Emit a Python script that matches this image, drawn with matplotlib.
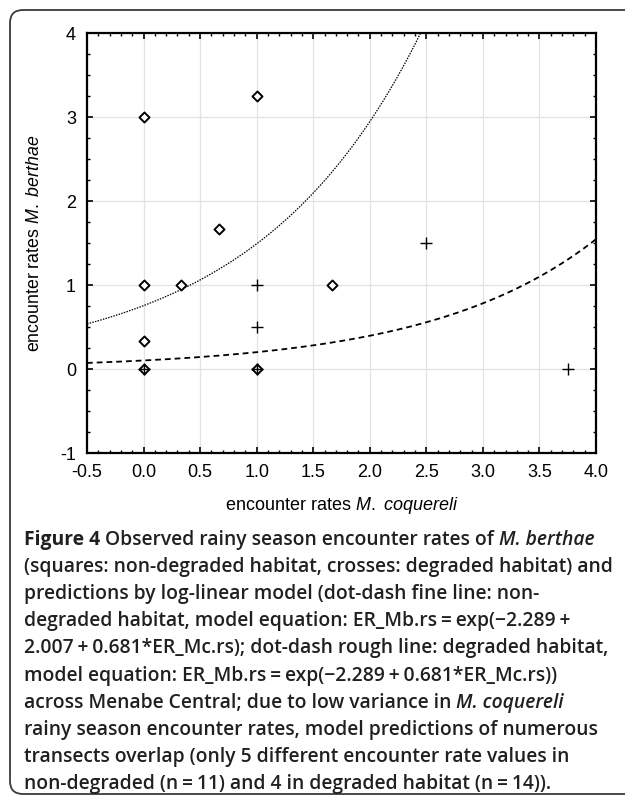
import numpy as np
import matplotlib
matplotlib.use('Agg')
import matplotlib.pyplot as plt
from matplotlib.patches import FancyBboxPatch
from matplotlib.ticker import MultipleLocator

plt.rcParams['mathtext.fontset'] = 'custom'
plt.rcParams['mathtext.it'] = 'Liberation Sans:italic'
plt.rcParams['mathtext.rm'] = 'Liberation Sans'

# observed encounter rates (M. coquereli, M. berthae)
nondeg_x = [0, 1, 0.667, 0, 0.333, 1.667, 0, 0, 1]
nondeg_y = [3, 3.25, 1.667, 1, 1, 1, 0.333, 0, 0]
deg_x = [1, 1, 2.5, 3.75, 0, 1]
deg_y = [1, 0.5, 1.5, 0, 0, 0]

# log-linear model from the caption
intercept = -2.289
nondeg_offset = 2.007
slope = 0.681

x_ticks = [-0.5, 0.0, 0.5, 1.0, 1.5, 2.0, 2.5, 3.0, 3.5, 4.0]
y_ticks = [-1, 0, 1, 2, 3, 4]

caption = [
    [("Figure 4", "bold"), ("Observed rainy season encounter rates of", "n"), ("M. berthae", "it")],
    [("(squares: non-degraded habitat, crosses: degraded habitat) and", "n")],
    [("predictions by log-linear model (dot-dash fine line: non-", "n")],
    [("degraded habitat, model equation: ER_Mb.rs\u2009=\u2009exp(\u22122.289\u2009+", "n")],
    [("2.007\u2009+\u20090.681*ER_Mc.rs); dot-dash rough line: degraded habitat,", "n")],
    [("model equation: ER_Mb.rs\u2009=\u2009exp(\u22122.289\u2009+\u20090.681*ER_Mc.rs))", "n")],
    [("across Menabe Central; due to low variance in", "n"), ("M. coquereli", "it")],
    [("rainy season encounter rates, model predictions of numerous", "n")],
    [("transects overlap (only 5 different encounter rate values in", "n")],
    [("non-degraded (n\u2009=\u200911) and 4 in degraded habitat (n\u2009=\u200914)).", "n")],
]

W, H = 625, 797
fig = plt.figure(figsize=(W / 100, H / 100), dpi=100)

# background axes in pixel units for the frame and caption
bg = fig.add_axes([0, 0, 1, 1], zorder=-1)
bg.set_xlim(0, W)
bg.set_ylim(H, 0)
bg.axis('off')
frame = FancyBboxPatch((10, 10), 640, 784, boxstyle="round,pad=0,rounding_size=13",
                       fc='white', ec='#3a3a3a', lw=1.3)
bg.add_patch(frame)

ax = fig.add_axes([87 / W, 1 - 453 / H, (596 - 87) / W, (453 - 33) / H])
xs = np.linspace(-0.5, 4.0, 400)
ax.plot(xs, np.exp(intercept + nondeg_offset + slope * xs), color='black', lw=0.9,
        dashes=(1.2, 1.0))
ax.plot(xs, np.exp(intercept + slope * xs), color='black', lw=1.3, dashes=(3.2, 2.2))
ax.scatter(nondeg_x, nondeg_y, marker='D', s=26, facecolors='white',
           edgecolors='black', linewidths=1.4, zorder=3)
ax.scatter(deg_x, deg_y, marker='+', s=70, color='black', linewidths=1.0, zorder=4)

ax.set_xlim(-0.5, 4.0)
ax.set_ylim(-1, 4)
ax.set_xticks(x_ticks)
ax.set_xticklabels([f'{t:.1f}' for t in x_ticks])
ax.set_yticks(y_ticks)
ax.set_yticklabels([str(t) for t in y_ticks])
ax.xaxis.set_minor_locator(MultipleLocator(0.1))
ax.yaxis.set_minor_locator(MultipleLocator(0.25))
ax.tick_params(which='both', direction='in', top=True, right=True, color='black')
ax.tick_params(which='major', length=4, width=1.2)
ax.tick_params(which='minor', length=2.5, width=1.0)
ax.tick_params(axis='x', which='major', labelsize=13, pad=8)
ax.tick_params(axis='y', which='major', labelsize=13, pad=8)
for lab in ax.get_xticklabels() + ax.get_yticklabels():
    lab.set_family('Liberation Sans')
ax.grid(True, which='major', color='#e3e3e3', lw=0.9)
ax.set_axisbelow(True)
for sp in ax.spines.values():
    sp.set_linewidth(1.6)

ax.set_xlabel(r'encounter rates $\mathit{M.}$ $\mathit{coquereli}$', fontsize=13,
              labelpad=10, family='Liberation Sans')
ax.set_ylabel(r'encounter rates $\mathit{M.}$ $\mathit{berthae}$', fontsize=12.8,
              labelpad=12, family='Liberation Sans')

# caption, laid out piece by piece
cap_font = 'Open Sans'
cap_color = '#231f20'
fig.canvas.draw()
renderer = fig.canvas.get_renderer()


def text_width(s, size, weight='semibold', style='normal'):
    t = bg.text(0, 0, s, fontsize=size, family=cap_font, weight=weight, style=style)
    w = t.get_window_extent(renderer).width
    t.remove()
    return w


base = 12
scale = 589 / text_width(caption[1][0][0], base)
fs = base * scale
space = text_width('a a', fs) - text_width('aa', fs)

x0, y0, step = 24, 545, 27.1
for i, line in enumerate(caption):
    x = x0
    for s, kind in line:
        weight = 'bold' if kind == 'bold' else 'semibold'
        style = 'italic' if kind == 'it' else 'normal'
        t = bg.text(x, y0 + i * step, s, fontsize=fs, family=cap_font, weight=weight,
                    style=style, color=cap_color, va='baseline', ha='left')
        x += t.get_window_extent(renderer).width + space

fig.savefig('out.png', dpi=100)
